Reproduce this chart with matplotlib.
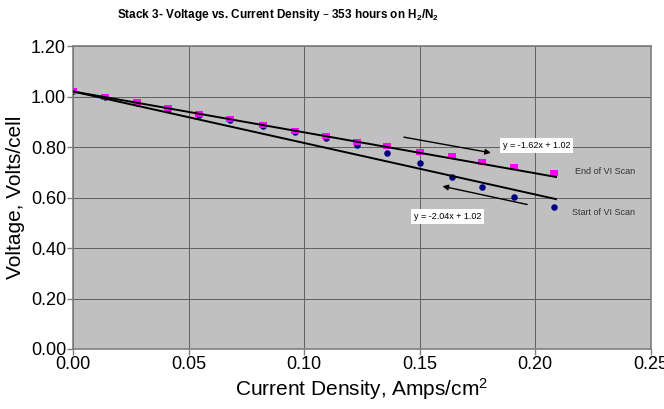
import matplotlib.pyplot as plt
import numpy as np

plt.rcParams['font.family'] = ['Liberation Sans', 'DejaVu Sans']
plt.rcParams['mathtext.default'] = 'regular'

# current density (A/cm2)
current = [0.0, 0.0137, 0.0275, 0.041, 0.0546, 0.068, 0.082, 0.096,
           0.1094, 0.123, 0.136, 0.150, 0.164, 0.177, 0.191, 0.208]
# start of VI scan (blue circles)
v_start = [1.02, 0.998, 0.975, 0.952, 0.928, 0.905, 0.882, 0.858,
           0.836, 0.808, 0.775, 0.735, 0.682, 0.643, 0.603, 0.561]
# end of VI scan (magenta squares)
v_end = [1.02, 1.00, 0.978, 0.956, 0.932, 0.91, 0.887, 0.865,
         0.844, 0.821, 0.804, 0.781, 0.764, 0.741, 0.722, 0.698]

# linear fits printed on the chart: (slope, intercept)
fit_start = (-2.04, 1.02)
fit_end = (-1.62, 1.02)

x_ticks = [0.00, 0.05, 0.10, 0.15, 0.20, 0.25]
y_ticks = [0.00, 0.20, 0.40, 0.60, 0.80, 1.00, 1.20]

fig = plt.figure(figsize=(6.64, 4.09), dpi=100)
ax = fig.add_axes([0.110, 0.1467, 0.870, 0.7408])
ax.set_facecolor('#c0c0c0')

# flat rectangle marker like the Excel squares
rect = [(-1, -0.7), (1, -0.7), (1, 0.7), (-1, 0.7), (-1, -0.7)]
ax.scatter(current, v_start, marker='o', s=22, color='#000080', lw=0, zorder=3)
ax.scatter(current, v_end, marker=rect, s=30, color='#ff00ff', lw=0, zorder=4)

xf = np.array([0.0, 0.209])
ax.plot(xf, fit_end[0] * xf + fit_end[1], color='black', lw=1.4, zorder=5)
ax.plot(xf, fit_start[0] * xf + fit_start[1], color='black', lw=1.4, zorder=5)

# arrows showing scan direction
ax.annotate('', xy=(0.182, 0.775), xytext=(0.142, 0.841),
            arrowprops=dict(arrowstyle='-|>', color='black', lw=1, mutation_scale=8))
ax.annotate('', xy=(0.1587, 0.647), xytext=(0.1977, 0.570),
            arrowprops=dict(arrowstyle='-|>', color='black', lw=1, mutation_scale=8))

box = dict(facecolor='white', edgecolor='none', pad=2)
ax.text(0.2007, 0.806, 'y = -1.62x + 1.02', fontsize=6.5, ha='center', va='center', bbox=box)
ax.text(0.162, 0.5255, 'y = -2.04x + 1.02', fontsize=6.5, ha='center', va='center', bbox=box)
ax.text(0.2303, 0.702, 'End of VI Scan', fontsize=6.5, ha='center', va='center', color='#333333')
ax.text(0.2295, 0.541, 'Start of VI Scan', fontsize=6.5, ha='center', va='center', color='#333333')

ax.set_xlim(0, 0.25)
ax.set_ylim(0, 1.2)
ax.set_xticks(x_ticks)
ax.set_yticks(y_ticks)
ax.set_xticklabels([f'{t:.2f}' for t in x_ticks], fontsize=13)
ax.set_yticklabels([f'{t:.2f}' for t in y_ticks], fontsize=13)
ax.tick_params(direction='out', length=4, width=1, color='#808080', pad=1)
ax.grid(True, color='#606060', lw=0.7)
ax.set_axisbelow(True)
for s in ax.spines.values():
    s.set_color('#808080')
    s.set_linewidth(1.2)

ax.set_xlabel('Current Density, Amps/cm$^2$', fontsize=15, labelpad=2)
ax.set_ylabel('Voltage, Volts/cell', fontsize=15, labelpad=4)
fig.text(278 / 664, 1 - 15 / 409, 'Stack 3- Voltage vs. Current Density – 353 hours on H$_2$/N$_2$',
         fontsize=8.5, fontweight='bold', ha='center', va='center')

fig.savefig('out.png', dpi=100)
